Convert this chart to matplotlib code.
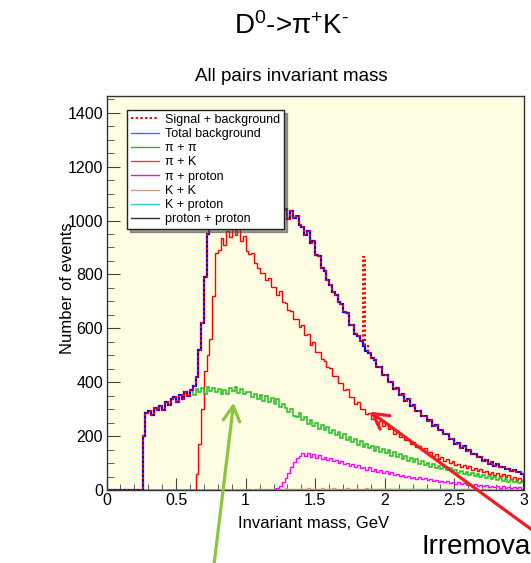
import numpy as np
import matplotlib
matplotlib.use("Agg")
import matplotlib.pyplot as plt
from matplotlib.ticker import MultipleLocator, FormatStrFormatter

plt.rcParams['font.family'] = ['Liberation Sans', 'DejaVu Sans']
plt.rcParams['mathtext.fontset'] = 'custom'
plt.rcParams['mathtext.rm'] = 'Liberation Sans'
plt.rcParams['mathtext.it'] = 'Liberation Sans'
plt.rcParams['mathtext.default'] = 'regular'

# ---- histogram contents, 0.02 GeV bins from 0 to 3 GeV ----
x_min, x_max, n_bins = 0.0, 3.0, 150

pipi = [0] * 13 + [200, 285,
    292, 278, 306, 296, 312, 298, 326, 316, 338, 344, 328, 354, 338, 364, 348,
    370, 352, 374, 362, 380, 358, 382, 366, 377, 362,
    374, 356, 370, 355, 378, 366, 382, 360, 374, 358,
    362, 364, 346, 357, 338, 354, 332, 347, 326, 340,
    318, 336, 308, 320, 304, 290, 300, 276, 270, 284,
    258, 270, 246, 258, 238, 250, 228, 240, 221, 232,
    212, 224, 204, 214, 194, 208, 186, 197, 178, 188,
    168, 180, 161, 172, 154, 164, 146, 158, 141, 152,
    136, 147, 128, 140, 121, 132, 116, 126, 108, 120,
    104, 114, 96, 106, 91, 101, 86, 96, 81, 90,
    77, 86, 73, 81, 68, 76, 63, 71, 59, 67,
    55, 63, 51, 58, 47, 54, 43, 51, 40, 47,
    37, 44, 34, 41, 31, 38, 28, 35, 26, 31]

pik = [0] * 32 + [60, 170, 300, 440, 500, 560, 720, 880,
    890, 935, 910, 962, 940, 975, 945, 968, 925, 942,
    885, 875, 878, 842, 822, 804, 806, 778, 788, 752,
    752, 722, 738, 698, 694, 668, 664, 636, 634, 606,
    612, 575, 578, 538, 548, 512, 512, 486, 478, 455,
    452, 424, 424, 396, 398, 370, 373, 345, 346, 320,
    326, 300, 302, 281, 284, 264, 266, 246, 256, 236,
    249, 226, 229, 208, 219, 196, 202, 184, 189, 172,
    179, 161, 164, 148, 154, 136, 142, 126, 132, 116,
    122, 108, 114, 100, 106, 92, 98, 86, 92, 80,
    88, 76, 82, 71, 78, 66, 72, 60, 68, 56,
    64, 52, 59, 47, 54, 42, 49, 38, 44, 34]

piproton = [0] * 60 + [3, 8, 15, 28, 45, 62, 85, 105, 120, 128,
    136, 126, 139, 124, 133, 120, 129, 116, 123, 110,
    118, 106, 113, 100, 108, 96, 102, 90, 97, 86,
    92, 82, 87, 76, 84, 72, 78, 68, 73, 64,
    70, 60, 65, 55, 61, 52, 57, 48, 53, 45,
    50, 42, 47, 39, 44, 36, 41, 33, 38, 31,
    35, 28, 33, 26, 30, 24, 28, 21, 26, 19,
    23, 17, 21, 15, 19, 13, 17, 12, 16, 10,
    14, 9, 13, 8, 12, 7, 11, 6, 10, 5]

kk = [0] * 50 + [2, 3, 1, 4, 2, 3, 5, 2, 3, 4,
    3, 5, 4, 2, 6, 3, 4, 5, 3, 4,
    5, 3, 6, 4, 5, 3, 4, 6, 5, 3,
    4, 6, 5, 3, 5, 4, 6, 3, 5, 4,
    4, 5, 3, 6, 4, 5, 3, 4, 5, 3,
    4, 3, 5, 4, 3, 4, 2, 4, 3, 4,
    3, 4, 2, 3, 4, 2, 3, 3, 2, 3,
    2, 3, 3, 2, 2, 3, 2, 2, 3, 2,
    2, 1, 2, 2, 1, 2, 1, 2, 1, 1,
    1, 2, 1, 1, 1, 0, 1, 1, 0, 1]

kproton = [0] * 90 + [1, 0, 1, 2, 1, 2, 1, 2, 3, 2,
    2, 3, 2, 3, 2, 3, 3, 2, 3, 2,
    3, 2, 3, 2, 3, 2, 2, 3, 2, 2,
    2, 2, 3, 2, 2, 2, 1, 2, 2, 1,
    2, 1, 2, 1, 1, 2, 1, 1, 1, 1,
    1, 1, 0, 1, 1, 1, 0, 1, 0, 1]

protonproton = [0] * 150

total_bg = [0] * 13 + [200, 285,
    292, 278, 306, 296, 312, 298, 326, 316, 338, 344, 328, 354, 338, 364, 348,
    370, 385, 420, 520, 620, 790, 950, 1060, 1150, 1220,
    1260, 1290, 1300, 1330, 1320, 1340, 1325, 1335, 1300, 1305,
    1255, 1240, 1235, 1200, 1175, 1155, 1150, 1125, 1125, 1100,
    1080, 1065, 1065, 1040, 1042, 1005, 1035, 1010, 1015, 985,
    975, 948, 962, 918, 925, 872, 868, 822, 812, 780,
    762, 735, 725, 698, 690, 660, 655, 612, 612, 578,
    572, 552, 536, 514, 510, 488, 484, 455, 456, 428,
    426, 402, 400, 376, 378, 354, 358, 332, 336, 312,
    314, 294, 294, 276, 276, 256, 260, 238, 243, 221,
    223, 206, 207, 190, 191, 171, 176, 157, 162, 145,
    148, 133, 134, 121, 122, 107, 112, 98, 104, 90,
    96, 86, 87, 79, 79, 71, 73, 65, 66, 60]

signal = [0] * 92 + [330, 20] + [0] * 56

edges = np.linspace(x_min, x_max, n_bins + 1)
sig_plus_bg = np.array(total_bg) + np.array(signal)

fig = plt.figure(figsize=(5.31, 5.63), dpi=100)
ax = fig.add_axes([106.5 / 531, 1 - 490 / 563, 417.5 / 531, 394 / 563])
ax.set_facecolor('#fffee2')

ax.stairs(protonproton, edges, color='#333333', lw=1.0, zorder=2)
ax.stairs(kproton, edges, color='#33cccc', lw=1.0, zorder=2)
ax.stairs(kk, edges, color='#c8a08c', lw=1.0, zorder=2)
ax.stairs(piproton, edges, color='#ff00ff', lw=1.0, zorder=3)
ax.stairs(pik, edges, color='#ff0000', lw=1.0, zorder=3)
ax.stairs(pipi, edges, color='#1fbf1f', lw=1.1, zorder=3)
ax.stairs(total_bg, edges, color='#0000ff', lw=1.6, zorder=4)
ax.stairs(sig_plus_bg, edges, color='#ff0000', lw=1.4, ls=(0, (1.2, 1.2)), zorder=5)

ax.set_xlim(x_min, x_max)
ax.set_ylim(0, 1462)
ax.xaxis.set_major_locator(MultipleLocator(0.5))
ax.xaxis.set_minor_locator(MultipleLocator(0.1))
ax.xaxis.set_major_formatter(FormatStrFormatter('%g'))
ax.yaxis.set_major_locator(MultipleLocator(200))
ax.yaxis.set_minor_locator(MultipleLocator(50))
ax.tick_params(axis='both', which='both', direction='in', top=False, right=False,
               labelsize=11.5, color='#444444')
ax.tick_params(axis='y', which='major', length=9.5, pad=2.5)
ax.tick_params(axis='y', which='minor', length=4.7)
ax.tick_params(axis='x', which='major', length=8.5, pad=2)
ax.tick_params(axis='x', which='minor', length=4.3)
for s in ax.spines.values():
    s.set_color('#333333')
    s.set_linewidth(1.0)

# legend (proxy lines matching the histogram styles)
handles = [
    plt.Line2D([], [], color='#ff0000', lw=1.4, ls=(0, (1.2, 1.2))),
    plt.Line2D([], [], color='#5566ff', lw=1.0),
    plt.Line2D([], [], color='#1fbf1f', lw=1.0),
    plt.Line2D([], [], color='#ff3333', lw=1.0),
    plt.Line2D([], [], color='#ff00ff', lw=1.0),
    plt.Line2D([], [], color='#c8a08c', lw=1.0),
    plt.Line2D([], [], color='#33cccc', lw=1.0),
    plt.Line2D([], [], color='#333333', lw=1.0),
]
labels = ['Signal + background', 'Total background', 'π + π', 'π + K',
          'π + proton', 'K + K', 'K + proton', 'proton + proton']
leg = ax.legend(handles, labels, loc='upper left', bbox_to_anchor=(0.049, 0.9645),
                borderaxespad=0, fontsize=9, handlelength=2.3, handletextpad=0.45,
                borderpad=0.3, labelspacing=0.18, fancybox=False, framealpha=1,
                shadow={'alpha': 0.55})
leg.get_frame().set_edgecolor('#222222')
leg.get_frame().set_linewidth(1.0)
leg.set_zorder(10)

fig.text(292 / 531, 1 - 26 / 563, r'D$^{0}$->π$^{+}$K$^{\text{-}}$', ha='center', va='center', fontsize=20)
fig.text(291.5 / 531, 1 - 77 / 563, 'All pairs invariant mass', ha='center', va='center', fontsize=13.5)
fig.text(314 / 531, 1 - 524 / 563, 'Invariant mass, GeV', ha='center', va='center', fontsize=12)
fig.text(67 / 531, 1 - 288 / 563, 'Number of events', rotation=90, ha='center', va='center', fontsize=12)
fig.text(421 / 531, 1 - 547 / 563, 'Irremova', ha='left', va='center', fontsize=20)

# arrows pointing at the pi+pi bump and the pi+K tail
ax.annotate('', xy=(234, 163), xycoords='figure pixels', xytext=(213, -10),
            textcoords='figure pixels', annotation_clip=False,
            arrowprops=dict(arrowstyle='->,head_length=0.9,head_width=0.5', mutation_scale=12,
                            color='#8cc63f', lw=2.3))
ax.annotate('', xy=(368, 153), xycoords='figure pixels', xytext=(550, 20),
            textcoords='figure pixels', annotation_clip=False,
            arrowprops=dict(arrowstyle='->,head_length=0.9,head_width=0.5', mutation_scale=12,
                            color='#ee1c25', lw=2.3))

fig.savefig('out.png', dpi=100)
